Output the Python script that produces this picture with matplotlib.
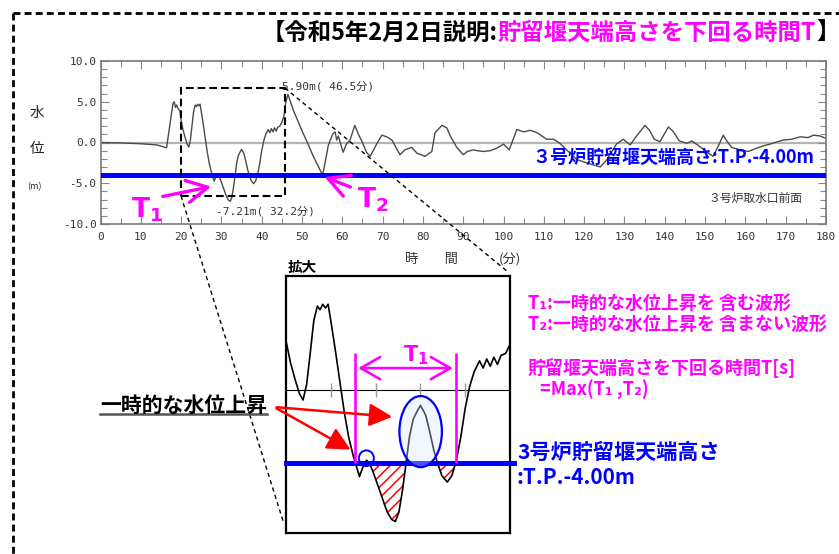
import matplotlib
matplotlib.use('Agg')
import matplotlib.pyplot as plt
from matplotlib.patches import Rectangle, Ellipse, FancyArrowPatch
from matplotlib.lines import Line2D
import numpy as np

# ---------------- data ----------------
time_min = [0, 5, 10, 14, 16.4, 17.0, 17.5, 18.0, 18.3, 18.6, 18.9, 19.3, 19.7,
            20.0, 20.5, 21.0, 21.5, 21.9, 22.3, 22.7, 23.1, 23.5, 23.8, 24.1, 24.4,
            24.7, 25.0, 25.5, 26.0, 26.5, 27.0, 27.5, 27.8, 28.2, 28.6, 29.0, 29.4,
            29.8, 30.3, 30.8, 31.3, 31.8, 32.2, 32.6, 33.0, 33.4, 33.8, 34.2, 34.6,
            35.0, 35.3, 35.6, 36.0, 36.5, 36.9, 37.4, 38.0, 38.5, 39.0, 39.5, 40.0,
            40.5, 41.0, 41.6, 42.0, 42.4, 42.8, 43.2, 43.6, 44.0, 44.5, 45.0, 45.5,
            46.0, 46.5, 47.0, 47.8, 49.0, 50.3, 51.5, 52.8, 54.0, 55.1, 55.8, 56.5,
            57.0, 57.7, 58.2, 58.6, 59.0, 60.2, 61.0, 61.9, 63.1, 64.0, 64.8, 66.0,
            66.9, 68.5, 69.8, 71.0, 72.3, 74.3, 75.5, 77.2, 78.5, 80.5, 82.2, 83.0,
            84.7, 85.9, 87.0, 88.4, 90.0, 91.0, 92.5, 93.4, 95.0, 96.7, 98.3, 100.0,
            101.4, 103.3, 105.0, 106.6, 108.3, 109.5, 110.7, 112.4, 114.0, 114.8,
            116.5, 118.2, 120.0, 122.0, 124.0, 125.5, 126.9, 128.0, 129.7, 131.4,
            133.0, 135.1, 136.2, 137.4, 138.8, 140.9, 142.0, 143.6, 145.5, 146.7,
            148.7, 150.5, 152.0, 153.5, 154.5, 155.5, 156.6, 158.7, 160.7, 162.8,
            164.5, 166.1, 168.0, 169.4, 171.5, 173.6, 175.5, 176.9, 178.5, 180.0]
level_m = [0.0, -0.05, -0.15, -0.3, -0.65, 1.5, 3.2, 4.8, 5.0, 4.3, 4.6, 4.1, 3.9,
           2.7, 1.5, 0.6, -0.2, -0.55, 0.3, 2.0, 3.8, 4.6, 4.4, 4.7, 4.5,
           4.7, 3.8, 2.2, 0.5, -1.2, -2.6, -3.6, -4.1, -4.75, -4.2, -3.85, -4.1,
           -4.6, -5.3, -6.0, -6.7, -7.1, -7.21, -6.7, -5.5, -4.0, -2.5, -1.6, -1.2,
           -0.85, -1.1, -1.4, -2.2, -3.3, -4.0, -4.7, -5.05, -4.7, -3.9, -2.6, -1.0,
           0.2, 1.0, 1.6, 1.2, 1.7, 1.3, 1.8, 1.4, 1.9, 2.0, 2.5, 3.2,
           5.0, 5.9, 5.2, 4.0, 2.6, 1.1, -0.2, -1.7, -2.9, -4.0, -2.3, -0.4,
           0.3, 1.1, 1.3, 0.3, 0.8, -1.2, -0.2, 0.3, 2.1, 1.0, 0.2, -1.2,
           -1.7, -0.2, 0.9, 0.7, 0.3, -1.5, -0.9, -0.6, -1.3, -1.7, -1.1, 1.2,
           2.1, 1.8, 0.6, -0.6, -1.5, -1.1, -0.9, -1.0, -1.1, -1.0, -0.7, -0.2,
           -0.9, 1.6, 1.3, 1.5, 1.2, 0.8, 0.4, 0.4, -0.1, -0.5,
           -1.3, -2.1, -2.4, -2.7, -3.0, -2.2, -1.1, -0.2, 0.4, -0.3,
           0.8, 2.1, 1.5, 0.4, 0.1, 1.9, 1.4, 0.2, -0.1, 0.2,
           -0.5, -1.2, -1.7, -0.2, 0.9, 0.1, -0.6, -0.9, -1.1, -0.7,
           -0.4, -0.2, 0.1, 0.3, 0.4, 0.7, 0.6, 0.9, 0.8, 0.5]
weir_level = -4.0
max_label = "5.90m( 46.5分)"
min_label = "-7.21m( 32.2分)"
max_pos = (45.0, 6.95)
min_pos = (28.6, -8.4)
xticks_major = list(range(0, 181, 10))
yticks_major = [-10, -5, 0, 5, 10]

t = np.array(time_min)
h = np.array(level_m)

# ---------------- setup ----------------
W, H = 839, 554
plt.rcParams['font.family'] = ['Noto Sans CJK JP', 'DejaVu Sans']
plt.rcParams['mathtext.fontset'] = 'dejavusans'
plt.rcParams['hatch.color'] = 'red'
plt.rcParams['hatch.linewidth'] = 1.1
MAG = '#ff00ff'
BLUE = '#0000ff'

def F(x, y):
    return (x / W, 1 - y / H)

fig = plt.figure(figsize=(W / 100, H / 100), dpi=100)

# outer dashed border (left + top)
fig.add_artist(Line2D([13 / W, 13 / W], [1 - 13 / H, 0], transform=fig.transFigure,
                      color='black', lw=2, ls=(0, (2.5, 1.5))))
fig.add_artist(Line2D([13 / W, 1], [1 - 13 / H, 1 - 13 / H], transform=fig.transFigure,
                      color='black', lw=2, ls=(0, (2.5, 1.5))))

# ---------------- main axes ----------------
ax = fig.add_axes([100.5 / W, 1 - 224 / H, 725.5 / W, 163 / H])
ax.axhline(0, color='#b4b4b4', lw=1.6, zorder=0)
ax.plot(t, h, color='#4a4a4a', lw=1.0, zorder=2)
ax.axhline(weir_level, color=BLUE, lw=3.6, zorder=3)
ax.set_xlim(0, 180)
ax.set_ylim(-10, 10)
ax.set_xticks(xticks_major)
ax.set_xticks(range(0, 181, 5), minor=True)
ax.set_yticks(yticks_major)
ax.set_yticks(range(-10, 11), minor=True)
ax.set_yticklabels([f"{v:.1f}" for v in yticks_major])
ax.tick_params(which='both', direction='in', top=True, right=True, color='#8a8a8a',
               width=0.8, labelcolor='#333333', labelsize=8)
ax.tick_params(which='major', length=6)
ax.tick_params(which='minor', length=4)
ax.tick_params(axis='x', pad=6)
ax.tick_params(axis='y', pad=3)
for lab in ax.get_xticklabels() + ax.get_yticklabels():
    lab.set_fontfamily('DejaVu Sans Mono')
for s in ax.spines.values():
    s.set_color('#7a7a7a')
    s.set_linewidth(1.2)

# dashed zoom rectangle
ax.add_patch(Rectangle((20, -6.56), 25.8, 13.25, fill=False, ec='black', lw=1.5,
                       ls=(0, (3.7, 1.9)), zorder=4, clip_on=False))
ax.text(*max_pos, max_label, fontsize=8, color='#333333', va='center', ha='left',
        family=['DejaVu Sans Mono', 'Noto Sans CJK JP'])
ax.text(*min_pos, min_label, fontsize=8, color='#333333', va='center', ha='left',
        family=['DejaVu Sans Mono', 'Noto Sans CJK JP'])
fig.text(*F(755, 198), "３号炉取水口前面", fontsize=8.5, color='#333333', ha='center', va='center')
fig.text(*F(673, 157), "３号炉貯留堰天端高さ:T.P.-4.00m", fontsize=13, color=BLUE,
         weight='bold', ha='center', va='center')

# axis labels
fig.text(*F(37, 113), "水", fontsize=10.5, ha='center', va='center', color='#222222')
fig.text(*F(37, 149), "位", fontsize=10.5, ha='center', va='center', color='#222222')
fig.text(*F(34, 187), "(m)", fontsize=6.5, ha='center', va='center', color='#222222')
fig.text(*F(431, 260), "時　　間", fontsize=9.5, ha='center', va='center', color='#333333')
fig.text(*F(510, 260), "(分)", fontsize=9.5, ha='center', va='center', color='#333333')

# connection dashed lines
fig.add_artist(Line2D([285 / W, 508 / W], [1 - 88 / H, 1 - 272 / H], transform=fig.transFigure,
                      color='black', lw=1.0, ls=(0, (3, 2.5))))
fig.add_artist(Line2D([181 / W, 284 / W], [1 - 196 / H, 1 - 524 / H], transform=fig.transFigure,
                      color='black', lw=1.0, ls=(0, (3, 2.5))))

# T1 / T2 magenta arrows in main chart
for (x0, y0, x1, y1) in [(160, 197, 214, 186), (353, 188, 322, 176)]:
    fig.add_artist(FancyArrowPatch(F(x0, y0), F(x1, y1), transform=fig.transFigure,
                                   arrowstyle='->,head_length=0.75,head_width=0.4',
                                   mutation_scale=20, color=MAG, lw=2.4))
fig.text(*F(131, 218), r"$\mathbf{T_1}$", fontsize=19, color=MAG, ha='left', va='baseline')
fig.text(*F(357, 207), r"$\mathbf{T_2}$", fontsize=19, color=MAG, ha='left', va='baseline')

# ---------------- title ----------------
t1 = fig.text(*F(262, 33), "【令和5年2月2日説明:", fontsize=16.8, weight='bold',
              ha='left', va='center', color='black')
t2 = ax.annotate("貯留堰天端高さを下回る時間T", xy=(1, 0), xycoords=t1, fontsize=16.8,
                 weight='bold', ha='left', va='bottom', color=MAG, annotation_clip=False)
ax.annotate("】", xy=(1, 0), xycoords=t2, fontsize=16.8, weight='bold', ha='left',
            va='bottom', color='black', annotation_clip=False)

# ---------------- zoomed inset ----------------
axi = fig.add_axes([286 / W, 1 - 533 / H, 224 / W, 257 / H])
axi.set_xlim(20, 45)
axi.set_ylim(-7.84, 6.25)
axi.set_xticks([])
axi.set_yticks([])
for s in axi.spines.values():
    s.set_color('black')
    s.set_linewidth(1.6)
axi.axhline(0, color='black', lw=0.8, zorder=1)
axi.vlines([25, 30, 35, 40], -0.38, 0.38, color='#999999', lw=1.0, zorder=1)
axi.fill_between(t, h, weir_level, where=h < weir_level, interpolate=True,
                 facecolor='white', edgecolor='red', hatch='///', lw=0, zorder=2)
axi.plot(t, h, color='black', lw=1.2, zorder=3)
axi.plot([20, 45.4], [weir_level, weir_level], color=BLUE, lw=3.6, zorder=4, clip_on=False)

# crossings of the weir level inside the zoom window
cross = []
for i in range(len(t) - 1):
    a, b = h[i] - weir_level, h[i + 1] - weir_level
    if a * b < 0:
        cross.append(t[i] + (t[i + 1] - t[i]) * a / (a - b))
cz = [c for c in cross if 20 < c < 45]
ts, te = cz[0], cz[-1]
axi.vlines([ts, te], weir_level, 2.05, color=MAG, lw=1.9, zorder=5)
axi.add_patch(FancyArrowPatch((ts, 1.2), (te, 1.2), arrowstyle='<->,head_length=0.7,head_width=0.4',
                              mutation_scale=20, color=MAG, lw=1.9, zorder=5))
fig.text(*F(403, 361), r"$\mathbf{T_1}$", fontsize=15, color=MAG, ha='left', va='baseline')

axi.add_patch(Ellipse((35.03, -2.28), 4.74, 3.9, facecolor=(0.85, 0.9, 1.0, 0.35),
                      edgecolor=BLUE, lw=1.6, zorder=6))
axi.add_patch(Ellipse((28.97, -3.74), 1.67, 0.86, facecolor='none',
                      edgecolor=BLUE, lw=1.4, zorder=6))

fig.text(*F(288, 275), "拡大", fontsize=10.5, weight='bold', ha='left', va='bottom')

# red arrows + label
fig.text(*F(184, 405), "一時的な水位上昇", fontsize=15, weight='bold', ha='center', va='center')
fig.add_artist(Line2D([100 / W, 267 / W], [1 - 414 / H, 1 - 414 / H], transform=fig.transFigure,
                      color='#555555', lw=1.8))
for (x1, y1) in [(395, 417), (353, 451)]:
    fig.add_artist(FancyArrowPatch(F(274, 407), F(x1, y1), transform=fig.transFigure,
                                   arrowstyle='-|>,head_length=0.7,head_width=0.35',
                                   mutation_scale=20, color='red', lw=1.8))

# right side magenta texts
fig.text(*F(528, 303), "T₁:一時的な水位上昇を 含む波形", fontsize=13, color=MAG,
         weight='bold', ha='left', va='center')
fig.text(*F(528, 324), "T₂:一時的な水位上昇を 含まない波形", fontsize=13, color=MAG,
         weight='bold', ha='left', va='center')
fig.text(*F(528, 368), "貯留堰天端高さを下回る時間T[s]", fontsize=13, color=MAG,
         weight='bold', ha='left', va='center')
fig.text(*F(540, 390), "=Max(T₁ ,T₂)", fontsize=13, color=MAG,
         weight='bold', ha='left', va='center')

# blue texts by inset
fig.text(*F(517, 452), "3号炉貯留堰天端高さ", fontsize=15.2, color=BLUE,
         weight='bold', ha='left', va='center')
fig.text(*F(517, 478), ":T.P.-4.00m", fontsize=15, color=BLUE,
         weight='bold', ha='left', va='center')

fig.savefig('out.png', dpi=100)
